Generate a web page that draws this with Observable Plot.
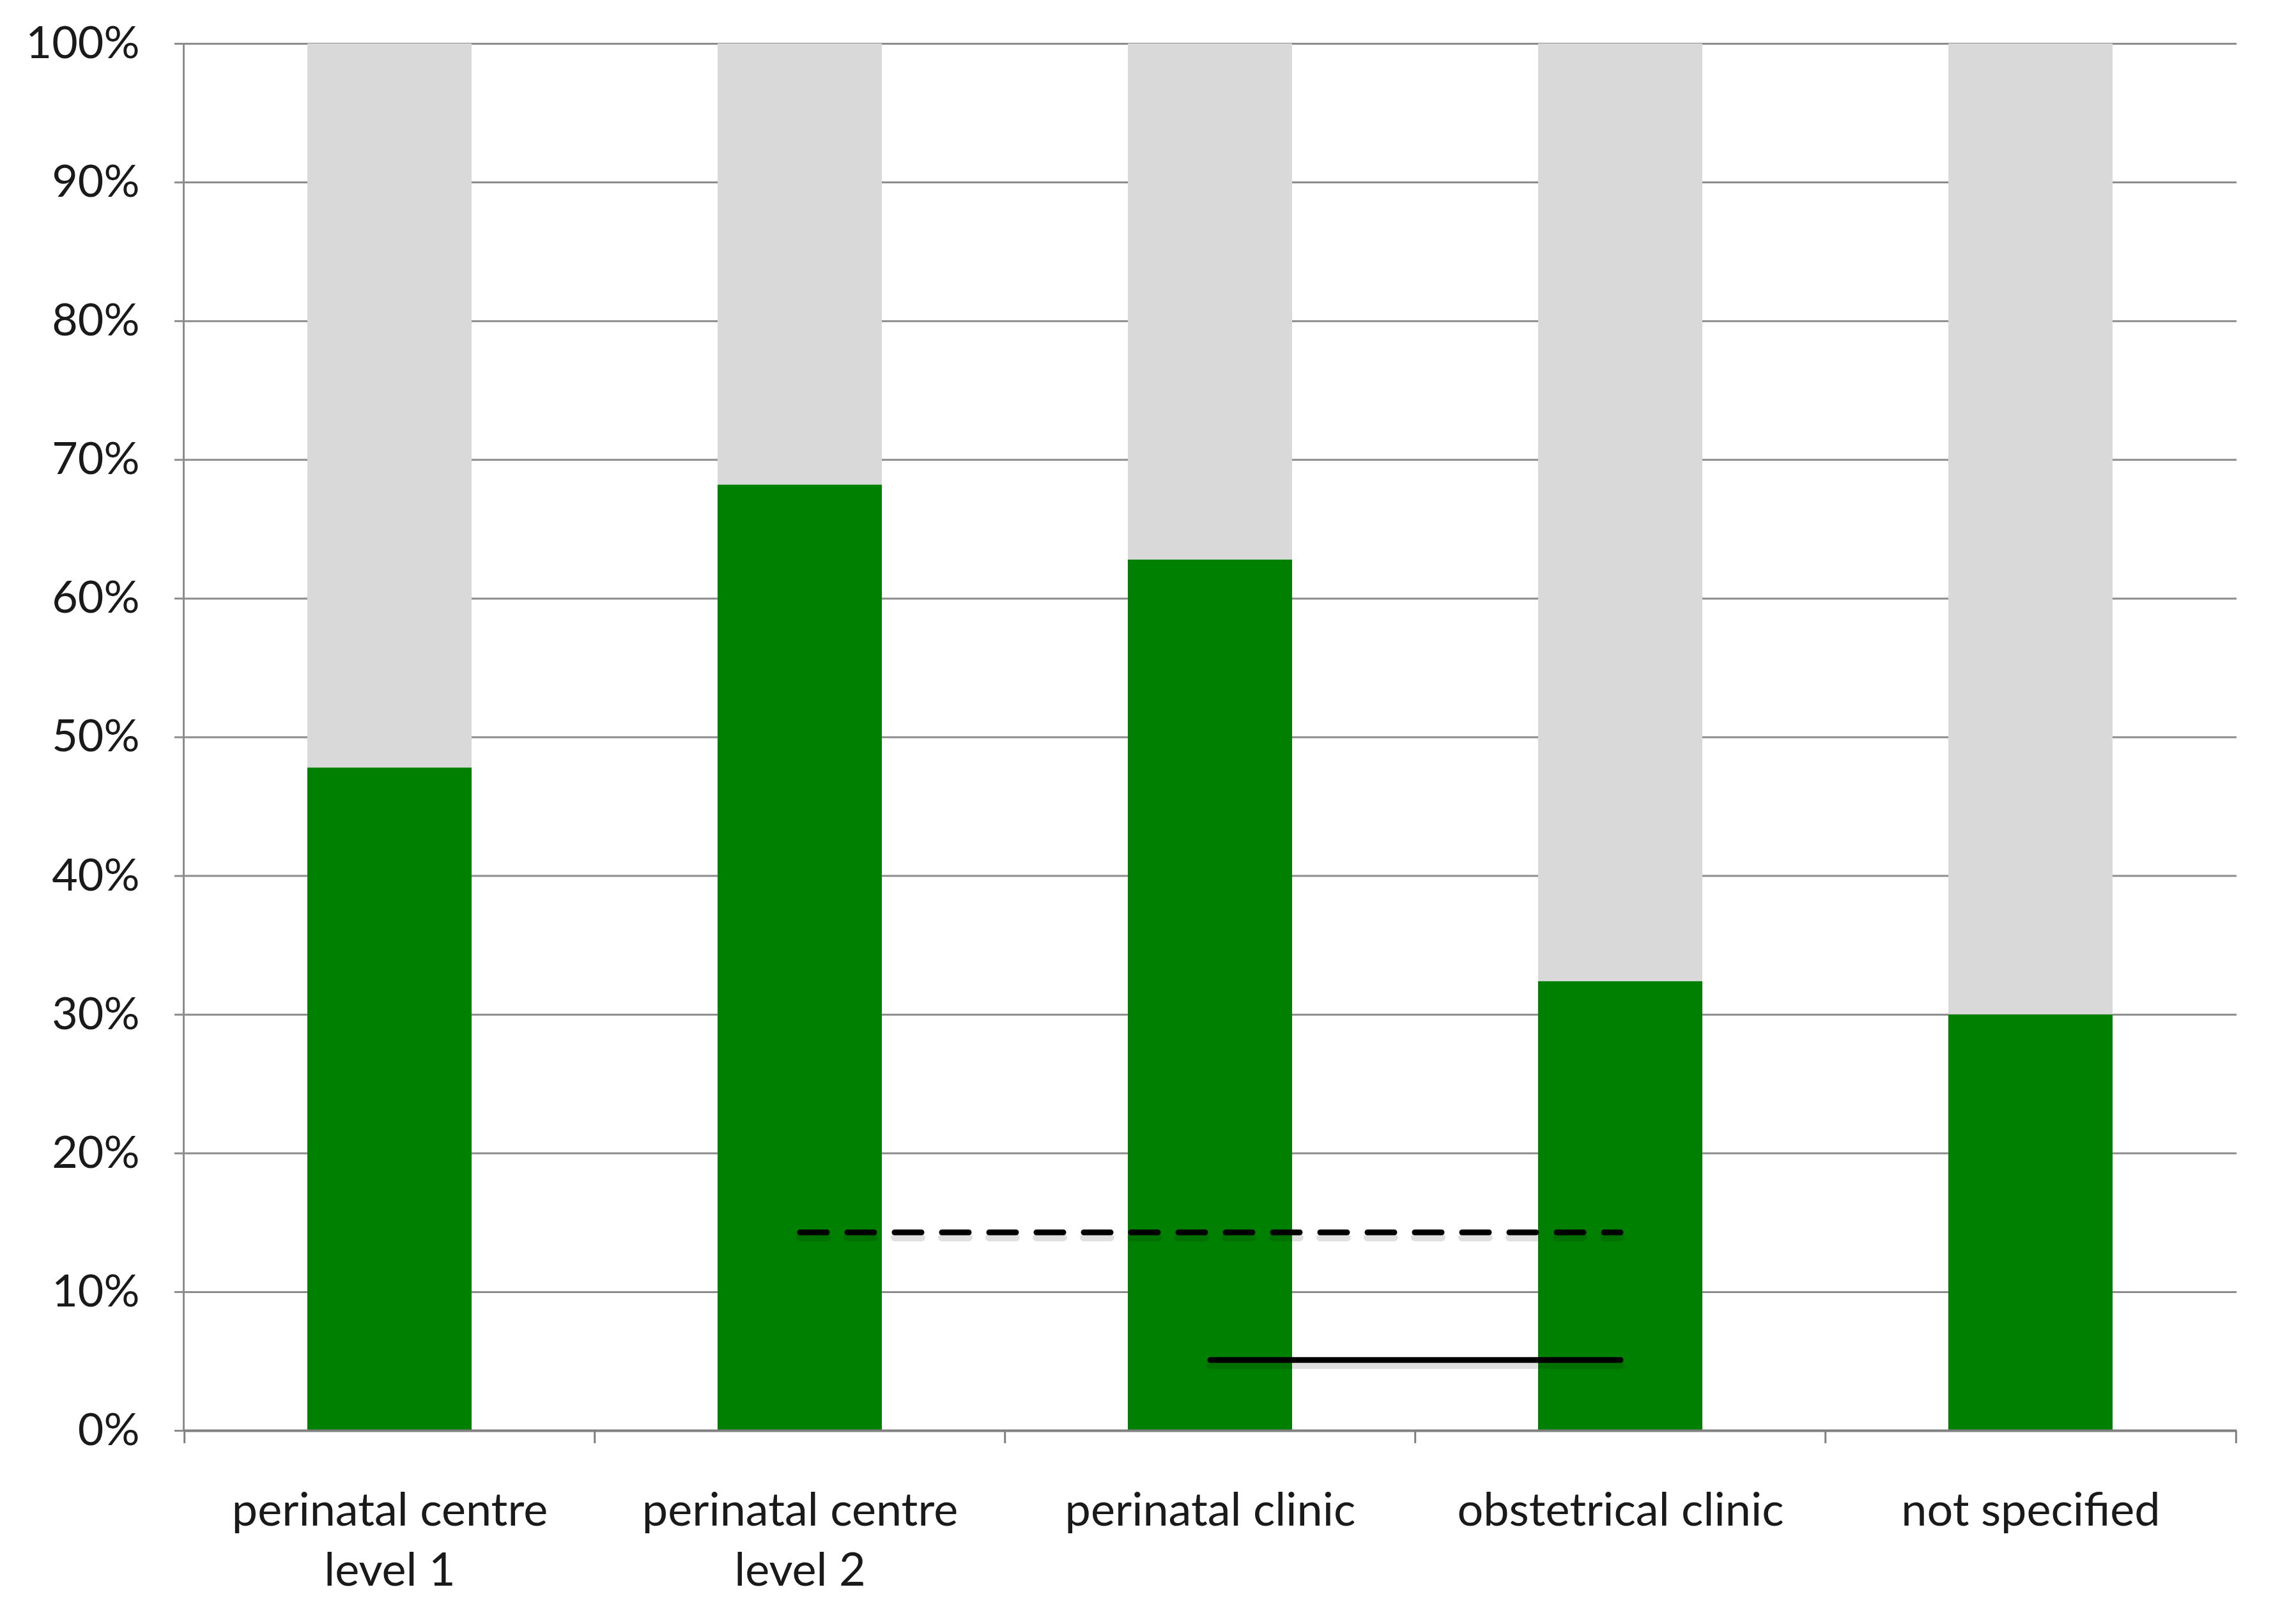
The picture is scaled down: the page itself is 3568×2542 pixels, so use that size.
<!DOCTYPE html>
<html>
<head>
<meta charset="utf-8">
<script src="https://cdn.jsdelivr.net/npm/d3@7"></script>
<script src="https://cdn.jsdelivr.net/npm/@observablehq/plot@0.6"></script>
<style>
  html, body { margin: 0; padding: 0; background: white; }
  svg { display: block; }
</style>
</head>
<body>
<div id="chart"></div>
<script>
// categories and values (percent)
const categories = ["perinatal centre\nlevel 1", "perinatal centre\nlevel 2", "perinatal clinic", "obstetrical clinic", "not specified"];
const greenValues = [47.8, 68.2, 62.8, 32.4, 30.0];
const grayValues = [52.2, 31.8, 37.2, 67.6, 70.0];
const yTicks = [0, 10, 20, 30, 40, 50, 60, 70, 80, 90, 100];

// comparison lines
const dashedCats = ["perinatal centre\nlevel 2", "obstetrical clinic"];
const dashedValues = [14.3, 14.3];
const solidCats = ["perinatal clinic", "obstetrical clinic"];
const solidValues = [5.1, 5.1];

const W = 3568, H = 2542;
const mL = 287, mR = 68, mT = 68, mB = 303;
const step = (W - mL - mR) / categories.length;

const table = [];
categories.forEach((c, i) => table.push({cat: c, part: "share", value: greenValues[i]}));
categories.forEach((c, i) => table.push({cat: c, part: "rest", value: grayValues[i]}));
const dashed = dashedCats.map((c, i) => ({cat: c, y: dashedValues[i]}));
const solid = solidCats.map((c, i) => ({cat: c, y: solidValues[i]}));

const axisStroke = "#8c8c8c";

const chart = Plot.plot({
  width: W,
  height: H,
  marginLeft: mL,
  marginRight: mR,
  marginTop: mT,
  marginBottom: mB,
  style: {fontFamily: "Lato, 'Open Sans', sans-serif", fontSize: "70px", color: "#1a1a1a", background: "white"},
  x: {domain: categories, paddingInner: 0.6, paddingOuter: 0.3, label: null},
  y: {domain: [0, 100], label: null},
  color: {domain: ["share", "rest"], range: ["#008000", "#d9d9d9"]},
  marks: [
    Plot.gridY(yTicks, {stroke: axisStroke, strokeOpacity: 1, strokeWidth: 3}),
    Plot.barY(table, {x: "cat", y: "value", fill: "part", order: null}),
    Plot.frame({anchor: "left", stroke: axisStroke, strokeWidth: 3}),
    Plot.ruleY([0], {stroke: "#808080", strokeWidth: 4}),
    Plot.axisY(yTicks, {tickFormat: d => d + "%", tickSize: 14, tickPadding: 55, stroke: axisStroke, strokeWidth: 3, fontSize: 70, label: null}),
    Plot.axisX({tickSize: 0, tickPadding: 82, lineHeight: 1.3, fontSize: 72, label: null}),
    Plot.axisX(categories, {tickSize: 20, tickFormat: () => "", dx: -step / 2, stroke: "#808080", strokeWidth: 3, label: null}),
    Plot.axisX([categories[categories.length - 1]], {tickSize: 20, tickFormat: () => "", dx: step / 2, stroke: "#808080", strokeWidth: 3, label: null}),
    // faint shadows
    Plot.line(dashed, {x: "cat", y: "y", stroke: "#000", strokeOpacity: 0.12, strokeWidth: 12, dy: 8, strokeDasharray: "42,32"}),
    Plot.line(solid, {x: "cat", y: "y", stroke: "#000", strokeOpacity: 0.12, strokeWidth: 12, dy: 8}),
    Plot.line(dashed, {x: "cat", y: "y", stroke: "#000", strokeWidth: 9, strokeDasharray: "42,32"}),
    Plot.line(solid, {x: "cat", y: "y", stroke: "#000", strokeWidth: 9})
  ]
});

document.getElementById("chart").appendChild(chart);
</script>
</body>
</html>
